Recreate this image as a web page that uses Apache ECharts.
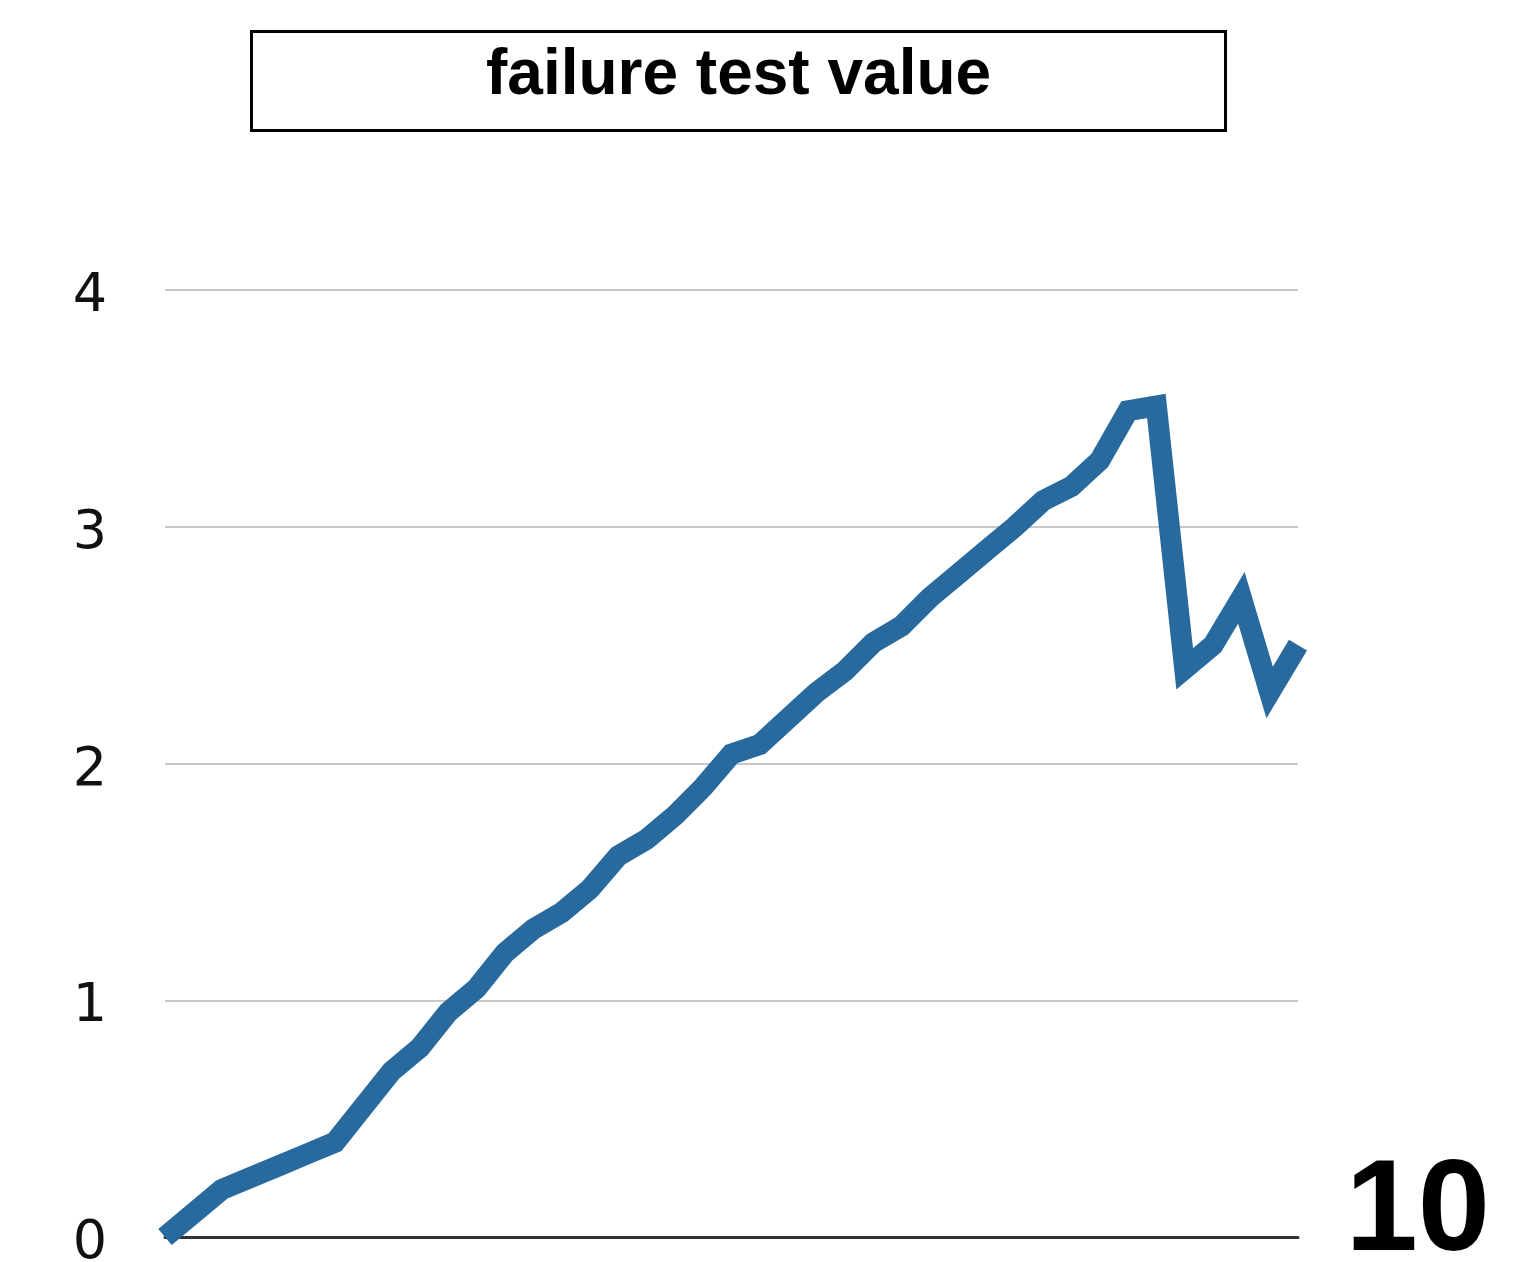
<!DOCTYPE html>
<html>
<head>
<meta charset="utf-8">
<script src="https://cdn.jsdelivr.net/npm/echarts@6/dist/echarts.min.js"></script>
<style>
html,body{margin:0;padding:0;background:#fff;}
#chart{width:1526px;height:1262px;}
</style>
</head>
<body>
<div id="chart"></div>
<script>
var titleText = 'failure test value';
var cornerText = '10';
var categories = [];
for (var k = 1; k <= 41; k++) categories.push(String(k));
var values = [0, 0.10, 0.20, 0.25, 0.30, 0.35, 0.40, 0.55, 0.70, 0.80,
  0.95, 1.05, 1.20, 1.30, 1.37, 1.47, 1.61, 1.68, 1.78, 1.90,
  2.04, 2.08, 2.19, 2.30, 2.39, 2.51, 2.58, 2.70, 2.80, 2.90,
  3.00, 3.11, 3.17, 3.28, 3.49, 3.51, 2.40, 2.50, 2.70, 2.30, 2.50];
var yTicks = [0, 1, 2, 3, 4];

var chart = echarts.init(document.getElementById('chart'), null, {renderer: 'canvas'});
chart.setOption({
  animation: false,
  backgroundColor: '#fff',
  title: {
    text: titleText,
    left: 251,
    top: 31,
    padding: [12, 235, 22, 235],
    borderWidth: 3,
    borderColor: '#000',
    textStyle: {
      fontFamily: 'Liberation Sans',
      fontSize: 64,
      fontWeight: 'bold',
      color: '#000',
      lineHeight: 66
    }
  },
  grid: {left: 165, right: 228, top: 290, bottom: 25, containLabel: false, outerBoundsMode: 'none'},
  xAxis: {
    type: 'category',
    data: categories,
    boundaryGap: false,
    axisLine: {show: true, lineStyle: {color: '#333', width: 3}},
    axisTick: {show: false},
    axisLabel: {show: false},
    splitLine: {show: false}
  },
  yAxis: {
    type: 'value',
    min: yTicks[0],
    max: yTicks[yTicks.length - 1],
    interval: 1,
    axisLine: {show: false},
    axisTick: {show: false},
    axisLabel: {
      margin: 58,
      fontFamily: 'DejaVu Sans',
      fontSize: 54,
      color: '#111',
      verticalAlign: 'top',
      lineHeight: 14
    },
    splitLine: {lineStyle: {color: '#c8c8c8', width: 2}}
  },
  series: [{
    type: 'line',
    data: values,
    symbol: 'none',
    lineStyle: {color: '#28699e', width: 21, join: 'miter', cap: 'butt', miterLimit: 10},
    z: 3
  }],
  graphic: [{
    type: 'text',
    x: 1490,
    y: 1214,
    style: {
      text: cornerText,
      font: 'bold 130px "Liberation Sans"',
      fill: '#000',
      align: 'right',
      verticalAlign: 'middle'
    }
  }]
});
</script>
</body>
</html>
